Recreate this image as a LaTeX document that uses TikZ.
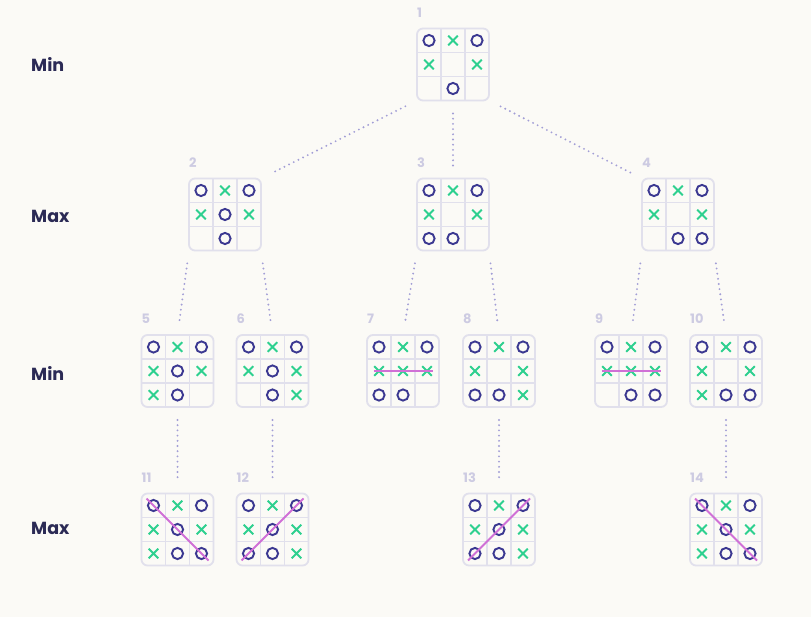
\documentclass[tikz,border=0pt]{standalone}
\usepackage{fontspec}
\setmainfont{Poppins}
\usepackage{tikz}
\usetikzlibrary{calc}
\definecolor{zemin}{HTML}{FBFAF6}
\definecolor{cizgi}{HTML}{E1E0EC}
\definecolor{koyuMor}{HTML}{3B3891}
\definecolor{yesil}{HTML}{2ED08F}
\definecolor{pembe}{HTML}{D070D6}
\definecolor{lavanta}{HTML}{A29ED6}
\definecolor{soluk}{HTML}{CDCBE2}
\definecolor{lacivert}{HTML}{2B2A55}

% tahta: ad, konum, hucreler (o / x / n)
\newcommand{\tahta}[3]{%
  \node[kutu] (#1) at (#2) {};
  \draw[izgara] (#1) ++(-12,-36) -- ++(0,72) (#1) ++(12,-36) -- ++(0,72)
                (#1) ++(-36,-12) -- ++(72,0) (#1) ++(-36,12) -- ++(72,0);
  \foreach \m [count=\k from 0] in {#3} {
    \pgfmathtruncatemacro\sut{mod(\k,3)-1}
    \pgfmathtruncatemacro\sat{div(\k,3)-1}
    \if\m o \draw[halka] (#1) ++(24*\sut,24*\sat) circle (5.6);\fi
    \if\m x \draw[carpi] (#1) ++(24*\sut,24*\sat) +(-4.8,-4.8) -- +(4.8,4.8) +(-4.8,4.8) -- +(4.8,-4.8);\fi
  }
  \node[numara,anchor=west] at ([yshift=16pt]#1.north west) {#1};
}

\begin{document}
\begin{tikzpicture}[x=1pt,y=-1pt, every node/.style={font=\bfseries},
  kutu/.style={draw=cizgi,line width=1.8pt,rounded corners=6pt,minimum size=72pt,
               inner sep=0pt,outer sep=0pt},
  izgara/.style={cizgi,line width=1.8pt},
  halka/.style={koyuMor,line width=1.9pt},
  carpi/.style={yesil,line width=1.9pt},
  kazanan/.style={pembe,line width=1.8pt},
  baglanti/.style={lavanta,line width=2.1pt,line cap=round,dash pattern=on 0pt off 5.2pt,
                   shorten <=13pt,shorten >=13pt},
  numara/.style={soluk,inner sep=0pt,font=\bfseries\fontsize{13}{13}\selectfont},
  seviye/.style={lacivert,inner sep=0pt,anchor=west,font=\bfseries\fontsize{17.5}{17.5}\selectfont}]
\fill[zemin] (0,0) rectangle (811,617);
\useasboundingbox (0,0) rectangle (811,617);

\node[seviye] (min1) at (31,64.5) {Min};
\node[seviye] (max1) at (31,216) {Max};
\node[seviye] (min2) at (31,373) {Min};
\node[seviye] (max2) at (31,528) {Max};

\tahta{1}{453,64.5}{o,x,o,x,n,x,n,o,n}
\tahta{2}{225,214.5}{o,x,o,x,o,x,n,o,n}
\tahta{3}{453,214.5}{o,x,o,x,n,x,o,o,n}
\tahta{4}{678,214.5}{o,x,o,x,n,x,n,o,o}
\tahta{5}{177.5,371}{o,x,o,x,o,x,x,o,n}
\tahta{6}{272.5,371}{o,x,o,x,o,x,n,o,x}
\tahta{7}{403,371}{o,x,o,x,x,x,o,o,n}
\tahta{8}{499,371}{o,x,o,x,n,x,o,o,x}
\tahta{9}{631,371}{o,x,o,x,x,x,n,o,o}
\tahta{10}{726,371}{o,x,o,x,n,x,x,o,o}
\tahta{11}{177.5,529.5}{o,x,o,x,o,x,x,o,o}
\tahta{12}{272.5,529.5}{o,x,o,x,o,x,o,o,x}
\tahta{13}{499,529.5}{o,x,o,x,o,x,o,o,x}
\tahta{14}{726,529.5}{o,x,o,x,o,x,x,o,o}

\draw[kazanan] (7) ++(-29.5,0) -- ++(59,0);
\draw[kazanan] (9) ++(-29.5,0) -- ++(59,0);
\draw[kazanan] (11) ++(-31,-31) -- ++(62,62);
\draw[kazanan] (12) ++(-31,31) -- ++(62,-62);
\draw[kazanan] (13) ++(-31,31) -- ++(62,-62);
\draw[kazanan] (14) ++(-31,-31) -- ++(62,62);

\foreach \a/\b in {1.south west/2.north east, 1.south/3.north, 1.south east/4.north west,
  2.south west/5.north, 2.south east/6.north, 3.south west/7.north, 3.south east/8.north,
  4.south west/9.north, 4.south east/10.north,
  5.south/11.north, 6.south/12.north, 8.south/13.north, 10.south/14.north}
  \draw[baglanti] (\a) -- (\b);
\end{tikzpicture}
\end{document}
